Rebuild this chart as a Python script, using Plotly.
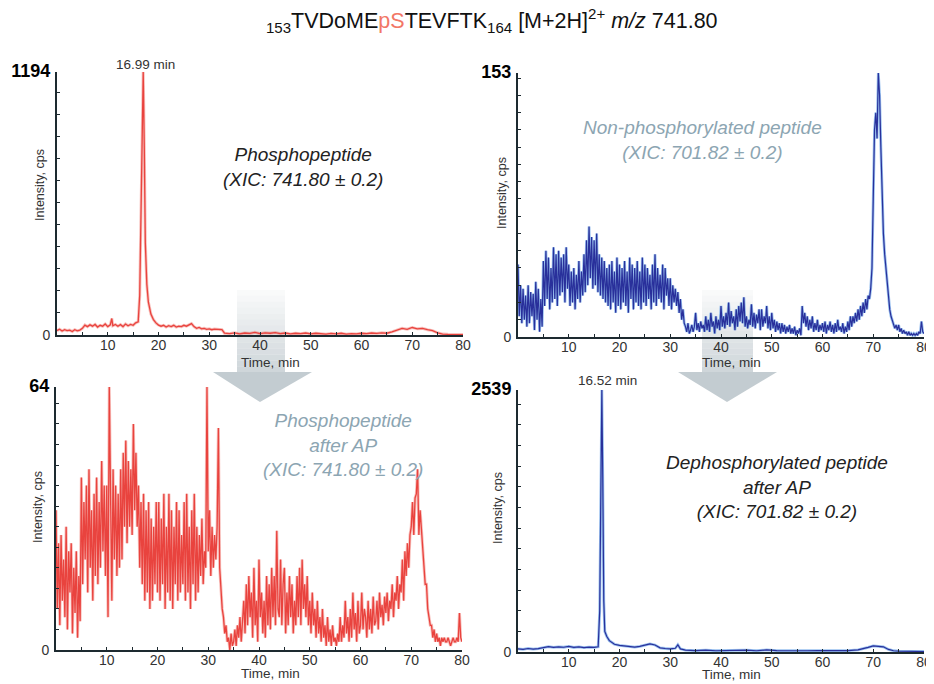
import plotly.graph_objects as go

W, H = 934, 684
OFF = 8  # page body margin in the browser

# ---------------- data ----------------
# Top-left: phosphopeptide XIC 741.80
tl_time = [0, 0.5, 1, 1.5, 2, 2.5, 3, 3.5, 4, 4.5, 5, 5.5, 6, 6.5, 7, 7.5, 8, 8.5, 9, 9.5,
           10, 10.5, 10.8, 11, 11.5, 12, 12.5, 13, 13.5, 14, 14.5, 15, 15.5, 16, 16.3, 16.6,
           16.99, 17.2, 17.4, 17.7, 18, 18.5, 19, 19.5, 20, 20.5, 21, 21.5, 22, 22.5, 23, 23.5,
           24, 24.5, 25, 25.5, 26, 26.5, 27, 27.5, 28, 28.5, 29, 29.5, 30, 30.5, 31, 31.5, 32,
           32.5, 33, 34, 35, 36, 37, 38, 39, 40, 41, 42, 43, 44, 45, 46, 47, 48, 49, 50, 51,
           52, 53, 54, 55, 56, 57, 58, 59, 60, 61, 62, 63, 64, 65, 66, 67, 68, 69, 70, 71, 72,
           73, 74, 75, 76, 77, 78, 79, 80]
tl_cps = [20, 26, 18, 24, 20, 22, 16, 24, 19, 22, 30, 45, 38, 46, 40, 48, 36, 44, 40, 50,
          38, 46, 75, 42, 48, 40, 47, 38, 50, 42, 48, 44, 55, 60, 180, 700,
          1194, 850, 420, 230, 150, 95, 70, 55, 45, 40, 44, 36, 42, 38, 44, 36,
          40, 38, 44, 40, 48, 52, 38, 30, 34, 28, 30, 26, 28, 24, 27, 25, 26,
          24, 8, 6, 10, 5, 9, 7, 12, 6, 10, 8, 11, 6, 9, 5, 8, 6, 9, 5, 8,
          6, 4, 7, 5, 8, 4, 6, 5, 8, 6, 9, 7, 10, 8, 14, 22, 30, 26, 34, 28, 30,
          24, 20, 10, 4, 3, 2, 3, 2]

# Top-right: non-phosphorylated peptide XIC 701.82 (0.25 min scans, one row per minute)
tr_cps = [
    42, 12, 30, 8,   28, 10, 24, 6,   30, 8, 26, 12,   25, 4, 32, 10,   28, 3, 22, 6,
    44, 18, 50, 22,  46, 16, 40, 20,  52, 22, 48, 18,  50, 24, 46, 26,  48, 20, 52, 28,
    42, 18, 38, 20,  40, 16, 36, 22,  44, 20, 38, 24,  48, 26, 56, 30,  64, 34, 58, 28,
    56, 30, 60, 26,  48, 24, 46, 22,  44, 20, 40, 18,  42, 16, 44, 20,  38, 14, 46, 18,
    42, 16, 40, 20,  44, 18, 38, 14,  46, 22, 42, 16,  40, 20, 44, 18,  38, 16, 46, 20,
    42, 18, 40, 22,  36, 16, 42, 20,  48, 18, 40, 22,  36, 20, 42, 16,  40, 24, 34, 18,
    34, 16, 30, 20,  28, 18, 26, 14,  22, 10, 16, 8,   6, 3, 8, 2,      4, 7, 3, 6,
    14, 4, 8, 3,     9, 5, 7, 3,      12, 4, 10, 3,    14, 6, 9, 2,     12, 5, 10, 4,
    18, 6, 12, 5,    14, 7, 20, 6,    15, 8, 12, 4,    16, 6, 18, 9,    20, 8, 23, 6,
    12, 5, 10, 7,    19, 6, 14, 5,    13, 8, 16, 4,    16, 6, 12, 8,    18, 5, 12, 4,
    14, 5, 10, 3,    9, 4, 8, 2,      8, 3, 7, 2,      6, 3, 7, 2,      5, 2, 6, 1,
    4, 2, 5, 1,      18, 8, 14, 6,    12, 4, 10, 5,    12, 3, 8, 4,     10, 3, 7, 4,
    8, 3, 9, 2,      7, 4, 9, 3,      7, 2, 8, 3,      10, 4, 6, 3,     8, 2, 6, 3,
    9, 4, 12, 6,     12, 8, 14, 9,    16, 10, 18, 12,  20, 14, 22, 16,  24, 22, 28, 40,
    80, 120, 130, 115,  153, 140, 110, 80,  60, 48, 40, 30,  20, 16, 12, 10,  8, 5, 7, 4,
    7, 3, 5, 2,      4, 2, 3, 1,      3, 1, 2, 1,      2, 1, 2, 1,      3, 2, 9, 3,
    2,
]
tr_time = [i * 0.25 for i in range(len(tr_cps))]

# Bottom-left: phosphopeptide after AP, XIC 741.80 (0.25 min scans, one row per minute)
bl_cps = [
    34, 10, 26, 6,   28, 12, 22, 8,   30, 5, 24, 14,   26, 4, 20, 9,    24, 3, 18, 7,
    42, 16, 36, 22,  40, 14, 44, 20,  34, 12, 38, 18,  42, 16, 36, 20,  46, 24, 40, 18,
    40, 8, 64, 30,   12, 44, 22, 40,  18, 38, 20, 44,  22, 48, 30, 51,  26, 46, 30, 44,
    28, 55, 34, 48,  30, 40, 20, 36,  16, 38, 12, 34,  14, 36, 10, 32,  12, 30, 16, 36,
    14, 36, 12, 32,  16, 38, 10, 30,  14, 38, 12, 34,  10, 30, 16, 36,  12, 34, 14, 28,
    16, 36, 12, 38,  14, 30, 10, 34,  16, 38, 12, 30,  14, 28, 18, 32,  16, 24, 20, 64,
    24, 34, 18, 30,  20, 28, 22, 30,  54, 20, 14, 10,  8, 4, 6, 2,      3, 0, 4, 1,
    2, 5, 1, 6,      3, 8, 2, 6,      12, 4, 16, 6,    18, 8, 14, 3,    20, 6, 12, 2,
    22, 8, 14, 4,    12, 3, 18, 6,    16, 5, 20, 8,    18, 6, 29, 10,   8, 22, 6, 16,
    20, 4, 14, 6,    18, 8, 16, 4,    12, 6, 18, 8,    20, 6, 22, 10,   16, 8, 18, 6,
    12, 4, 14, 6,    10, 3, 12, 4,    8, 2, 10, 3,     6, 1, 8, 2,      5, 1, 6, 2,
    3, 1, 4, 2,      8, 2, 6, 3,      12, 4, 8, 2,     10, 3, 14, 5,    9, 2, 12, 4,
    6, 14, 5, 10,    8, 3, 12, 5,     10, 4, 13, 6,    7, 12, 5, 14,    8, 11, 6, 13,
    9, 14, 7, 12,    10, 16, 8, 14,   12, 18, 10, 16,  14, 22, 12, 24,  18, 26, 20, 28,
    30, 36, 28, 37,  38, 44, 28, 34,  30, 24, 20, 16,  16, 10, 8, 6,    6, 3, 5, 2,
    4, 2, 3, 1,      3, 2, 3, 2,      2, 3, 2, 1,      2, 3, 2, 2,      3, 2, 9, 3,
    2,
]
bl_time = [i * 0.25 for i in range(len(bl_cps))]

# Bottom-right: dephosphorylated peptide after AP, XIC 701.82
br_time = [0, 1, 2, 3, 4, 5, 6, 7, 8, 9, 10, 11, 12, 13, 14, 15, 15.8, 16.1, 16.35, 16.52,
           16.7, 16.9, 17.1, 17.5, 18, 18.5, 19, 20, 21, 22, 23, 24, 25, 26, 27, 28, 29, 30,
           31, 31.5, 32, 33, 35, 37, 39, 41, 43, 45, 47, 49, 51, 53, 55, 57, 59, 61, 63, 65,
           67, 68, 69, 70, 71, 72, 73, 74, 75, 77, 79, 80]
br_cps = [30, 26, 34, 28, 32, 40, 52, 44, 50, 46, 54, 44, 50, 42, 48, 44, 50, 400, 1900, 2539,
          1700, 500, 200, 150, 110, 90, 75, 65, 60, 52, 48, 55, 70, 78, 68, 40, 34, 30,
          36, 70, 30, 18, 14, 18, 12, 16, 14, 18, 12, 20, 14, 12, 16, 12, 14, 12, 16, 14,
          20, 30, 45, 60, 55, 50, 25, 12, 8, 6, 5, 5]

y_max = [1194, 153, 64, 2539]
y_minor_step = [100, 10, 5, 200]
x_ticks = [10, 20, 30, 40, 50, 60, 70, 80]

# ---------------- layout geometry (page pixels) ----------------
panels = [  # x0, x1, ytop, ybottom
    (57, 463, 72, 335),
    (518, 924, 73, 337),
    (56, 462, 387, 650),
    (518, 924, 390, 652),
]

FONT = "Arial, Liberation Sans, Helvetica, sans-serif"
AXIS_COL = "#1d2a30"

def fx(x):
    return (x - OFF) / W

def fy(y):
    return 1 - (y - OFF) / H

def px(x, y):
    return fx(x), fy(y)

fig = go.Figure()

series = [
    (tl_time, tl_cps, "red"),
    (tr_time, tr_cps, "blue"),
    (bl_time, bl_cps, "red"),
    (br_time, br_cps, "blue"),
]

for i, (t, v, col) in enumerate(series):
    xa = "x" if i == 0 else f"x{i+1}"
    ya = "y" if i == 0 else f"y{i+1}"
    if col == "red":
        halo = dict(color="rgba(240,120,110,0.45)", width=3.0)
        main = dict(color="rgba(230,45,40,0.85)", width=1.3)
    else:
        halo = dict(color="rgba(70,140,225,0.55)", width=2.8)
        main = dict(color="rgba(35,40,150,0.95)", width=1.2)
    fig.add_trace(go.Scatter(x=t, y=v, mode="lines", line=halo, xaxis=xa, yaxis=ya,
                             hoverinfo="skip", showlegend=False))
    fig.add_trace(go.Scatter(x=t, y=v, mode="lines", line=main, xaxis=xa, yaxis=ya,
                             showlegend=False))

layout = {}
for i, (x0, x1, yt, yb) in enumerate(panels):
    xn = "xaxis" if i == 0 else f"xaxis{i+1}"
    yn = "yaxis" if i == 0 else f"yaxis{i+1}"
    xa = "x" if i == 0 else f"x{i+1}"
    ya = "y" if i == 0 else f"y{i+1}"
    layout[xn] = dict(
        domain=[fx(x0), fx(x1)], range=[0, 80], anchor=ya,
        tickmode="array", tickvals=x_ticks, ticks="inside", ticklen=3,
        tickcolor=AXIS_COL, showline=True, linecolor=AXIS_COL, linewidth=1.6,
        showgrid=False, zeroline=False, automargin=False, ticklabelstandoff=-4,
        tickfont=dict(family=FONT, size=14, color="#333"),
        minor=dict(tickmode="linear", tick0=0, dtick=5, ticks="inside", ticklen=3,
                   tickcolor=AXIS_COL, showgrid=False),
        fixedrange=True,
    )
    m = y_max[i]
    layout[yn] = dict(
        domain=[fy(yb), fy(yt)], range=[0, m], anchor=xa,
        tickmode="array", tickvals=[0, m],
        ticktext=["0", f"<span style='font-size:18px;color:#000'><b>{m}</b></span>"],
        ticks="", showline=True, linecolor=AXIS_COL, linewidth=1.6,
        showgrid=False, zeroline=False, ticklabelstandoff=2, automargin=False,
        tickfont=dict(family=FONT, size=14, color="#333"),
        minor=dict(tickmode="linear", tick0=0, dtick=y_minor_step[i], ticks="inside",
                   ticklen=3, tickcolor=AXIS_COL, showgrid=False),
        fixedrange=True,
    )

# ---------------- arrows (shapes) ----------------
shapes = []
ARROW = "#c3ccd1"
for (sx0, sx1, hx0, hx1, tip) in [(237, 285, 213, 312, 260), (702, 753, 678, 777, 727)]:
    top, neck, bot = 290, 372, 402
    n = 14
    for k in range(n):
        ya0 = top + (neck - top) * k / n
        ya1 = top + (neck - top) * (k + 1) / n
        a, b = px(sx0, ya0)
        c, d = px(sx1, ya1)
        shapes.append(dict(type="rect", xref="paper", yref="paper", x0=a, x1=c, y0=d, y1=b,
                           fillcolor=ARROW, opacity=0.05 + 0.75 * (k + 1) / n,
                           line=dict(width=0), layer="below"))
    p1 = px(hx0, neck); p2 = px(hx1, neck); p3 = px(tip, bot)
    shapes.append(dict(type="path", xref="paper", yref="paper",
                       path=f"M {p1[0]},{p1[1]} L {p2[0]},{p2[1]} L {p3[0]},{p3[1]} Z",
                       fillcolor=ARROW, line=dict(width=0), layer="below"))

# ---------------- annotations ----------------
ann = []

def add_text(x, y, text, size, color="#222", italic=False, angle=0, xanchor="center"):
    ax, ay = px(x, y)
    if italic:
        text = f"<i>{text}</i>"
    ann.append(dict(x=ax, y=ay, xref="paper", yref="paper", text=text, showarrow=False,
                    xanchor=xanchor, yanchor="middle", textangle=angle,
                    font=dict(family=FONT, size=size, color=color)))

title = ("<sub>153</sub>TVDoME<span style='color:#f27766'>pS</span>TEVFTK<sub>164</sub> "
         "[M+2H]<sup>2+</sup> <i>m/z</i> 741.80")
add_text(492, 21, title, 21.5, color="#111")

add_text(145, 64, "16.99 min", 13.5, color="#333")
add_text(607, 381, "16.52 min", 13.5, color="#333")

DARK = "#222"
GREY = "#8ca5b2"
add_text(303, 167, "Phosphopeptide<br>(XIC: 741.80 ± 0.2)", 19, DARK, italic=True)
add_text(702, 140, "Non-phosphorylated peptide<br>(XIC: 701.82 ± 0.2)", 19, GREY, italic=True)
add_text(343, 445, "Phosphopeptide<br>after AP<br>(XIC: 741.80 ± 0.2)", 19, GREY, italic=True)
add_text(777, 487, "Dephosphorylated peptide<br>after AP<br>(XIC: 701.82 ± 0.2)", 19, DARK, italic=True)

for (x, y) in [(270, 362), (731, 362), (270, 673), (731, 674)]:
    add_text(x, y, "Time, min", 13.5, color="#333")
for (x, y) in [(40, 185), (502, 193), (38, 507), (498, 508)]:
    add_text(x, y, "Intensity, cps", 12.5, color="#333", angle=-90)

fig.update_layout(
    width=W, height=H, margin=dict(l=0, r=0, t=0, b=0, autoexpand=False),
    paper_bgcolor="white", plot_bgcolor="rgba(0,0,0,0)",
    font=dict(family=FONT), shapes=shapes, annotations=ann, showlegend=False,
    **layout,
)

fig.write_html("out.html")
